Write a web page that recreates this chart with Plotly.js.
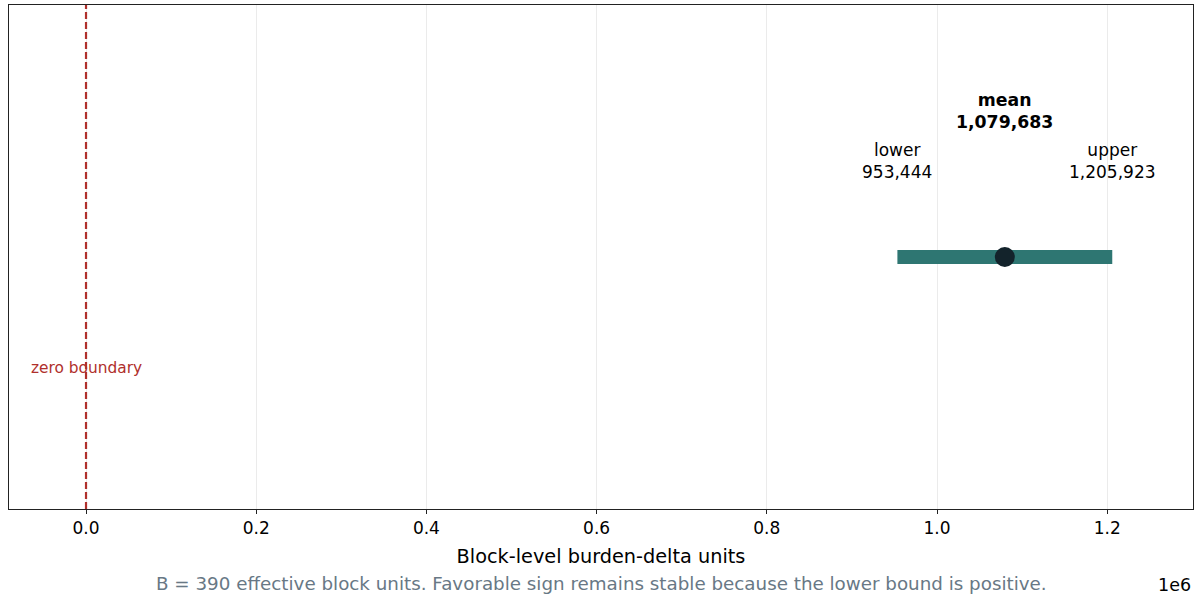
<!DOCTYPE html>
<html>
<head>
<meta charset="utf-8">
<script src="https://cdn.plot.ly/plotly-3.0.1.min.js"></script>
<style>html,body{margin:0;padding:0;background:#fff;}#chart{width:1200px;height:598px;}</style>
</head>
<body>
<div id="chart"></div>
<script>
const boundLabels = ["lower", "upper"];
const boundValues = [953444, 1205923];
const meanLabel = "mean";
const meanValue = 1079683;
const zeroValue = 0;
const tickValues = [0, 200000, 400000, 600000, 800000, 1000000, 1200000];
const tickLabels = ["0.0", "0.2", "0.4", "0.6", "0.8", "1.0", "1.2"];
const xTitle = "Block-level burden-delta units";
const caption = "B = 390 effective block units. Favorable sign remains stable because the lower bound is positive.";

const fmt = v => v.toLocaleString("en-US");
const FONT = "DejaVu Sans, sans-serif";

const traces = [
  {
    x: boundValues, y: [0, 0], mode: "lines", type: "scatter",
    line: {color: "#2e7672", width: 14}, hoverinfo: "skip", showlegend: false
  },
  {
    x: [meanValue], y: [0], mode: "markers", type: "scatter",
    marker: {color: "#13232b", size: 20}, showlegend: false
  }
];

const annotations = [
  {x: boundValues[0], y: 0.38, xref: "x", yref: "y", text: boundLabels[0] + "<br>" + fmt(boundValues[0]), showarrow: false, font: {family: FONT, size: 17, color: "#000"}, align: "center"},
  {x: boundValues[1], y: 0.38, xref: "x", yref: "y", text: boundLabels[1] + "<br>" + fmt(boundValues[1]), showarrow: false, font: {family: FONT, size: 17, color: "#000"}, align: "center"},
  {x: meanValue, y: 0.58, xref: "x", yref: "y", text: "<b>" + meanLabel + "</b><br><b>" + fmt(meanValue) + "</b>", showarrow: false, font: {family: FONT, size: 17.3, color: "#000"}, align: "center"},
  {x: zeroValue, y: -0.44, xref: "x", yref: "y", text: "zero boundary", showarrow: false, font: {family: FONT, size: 15.4, color: "#b0302c"}},
  {x: 1, y: -0.15, xref: "paper", yref: "paper", xanchor: "right", yanchor: "middle", text: "1e6", showarrow: false, font: {family: FONT, size: 17.5, color: "#000"}},
  {x: 0.5, y: 0, xref: "paper", yref: "paper", yanchor: "middle", yshift: -74, text: caption, showarrow: false, font: {family: FONT, size: 18.3, color: "#687885"}}
];

const layout = {
  width: 1200, height: 598,
  margin: {l: 9, r: 7, t: 5, b: 89},
  paper_bgcolor: "#fff", plot_bgcolor: "#fff",
  showlegend: false,
  xaxis: {
    range: [-90500, 1300800],
    tickmode: "array", tickvals: tickValues, ticktext: tickLabels,
    ticks: "outside", ticklen: 4, tickcolor: "#222", tickwidth: 1,
    tickfont: {family: FONT, size: 17, color: "#000"},
    showgrid: true, gridcolor: "#ebebeb", gridwidth: 1,
    zeroline: false,
    showline: true, mirror: true, linecolor: "#222", linewidth: 1,
    title: {text: xTitle, font: {family: FONT, size: 19.3, color: "#000"}, standoff: 12}
  },
  yaxis: {
    range: [-1, 1], showticklabels: false, ticks: "", showgrid: false, zeroline: false,
    showline: true, mirror: true, linecolor: "#222", linewidth: 1
  },
  shapes: [
    {type: "line", xref: "x", yref: "paper", x0: zeroValue, x1: zeroValue, y0: 0, y1: 1,
     line: {color: "#b0302c", width: 2.2, dash: "7px,3px"}}
  ],
  annotations: annotations
};

Plotly.newPlot("chart", traces, layout, {displayModeBar: false, staticPlot: true});
</script>
</body>
</html>
